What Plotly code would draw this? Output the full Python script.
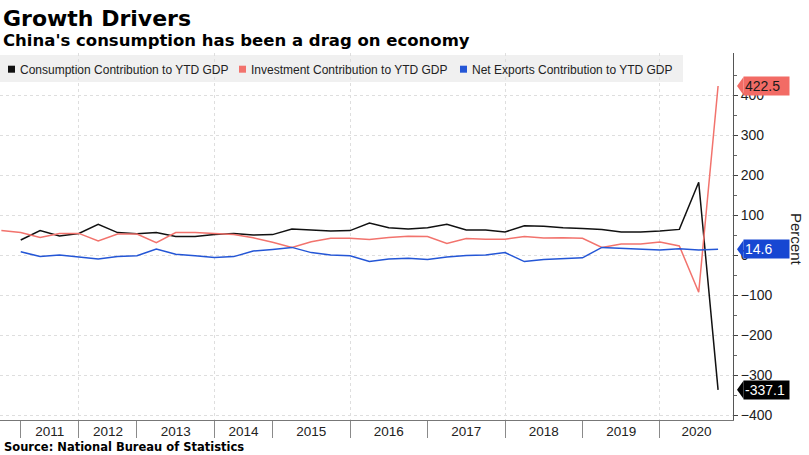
import plotly.graph_objects as go

# ---------------- data ----------------
periods = ["2010-Q4",
           "2011-Q2", "2011-Q3", "2011-Q4",
           "2012-Q2", "2012-Q3", "2012-Q4",
           "2013-Q1", "2013-Q2", "2013-Q3", "2013-Q4",
           "2014-Q2", "2014-Q3", "2014-Q4",
           "2015-Q1", "2015-Q2", "2015-Q3", "2015-Q4",
           "2016-Q1", "2016-Q2", "2016-Q3", "2016-Q4",
           "2017-Q1", "2017-Q2", "2017-Q3", "2017-Q4",
           "2018-Q1", "2018-Q2", "2018-Q3", "2018-Q4",
           "2019-Q1", "2019-Q2", "2019-Q3", "2019-Q4",
           "2020-Q1", "2020-Q2", "2020-Q3"]
investment_periods = ["2010-Q3"] + periods

consumption = [37.5, 61, 47.5, 54, 77, 56, 53, 56, 46, 46, 51, 54, 50, 51, 65, 63, 60, 61,
               80, 68, 65, 68, 77, 62.5, 62.5, 57.5, 73, 72, 68, 66.5, 64, 57.5, 57.5, 60,
               64, 182, -337.1]
investment = [61, 56, 44, 54, 54, 35, 52.5, 52.5, 31, 56, 56, 54, 51, 43, 32, 19, 33, 42, 42,
              39, 44, 47, 46, 29, 41, 39.5, 39.5, 46, 42.5, 43, 42, 19, 27.5, 27.5, 32.5,
              22.5, -93, 422.5]
net_exports = [8, -4, 0, -5, -10, -4, -2, 15, 2, -2, -6, -4, 10, 14, 19, 6, 0, -2, -16, -10,
               -8, -11, -5, -1.5, 0, 6, -16.5, -11, -9, -7, 19, 16.5, 15.5, 12.5, 15.5, 12.5,
               14.6]

years = ["2011", "2012", "2013", "2014", "2015", "2016", "2017", "2018", "2019", "2020"]
y_ticks = [-400, -300, -200, -100, 0, 100, 200, 300, 400]
y_minor = [-350, -250, -150, -50, 50, 150, 250, 350, 450]

series_names = ["Consumption Contribution to YTD GDP",
                "Investment Contribution to YTD GDP",
                "Net Exports Contribution to YTD GDP"]
colors = ["#111111", "#F2736D", "#2456D6"]
tag_colors = ["#000000", "#F26B65", "#1747D2"]
tag_text_colors = ["#ffffff", "#1a1a1a", "#ffffff"]

# ---------------- geometry ----------------
W, H = 809, 455
ML, MR, MT, MB = 0, 76, 53, 35
PW = W - ML - MR
PH = H - MT - MB
X_RANGE = [-1.07, 36.77]
Y_RANGE = [-412.5, 505]

index_of = {p: i for i, p in enumerate(periods)}
index_of["2010-Q3"] = -1
xc = [index_of[p] for p in periods]
xi = [index_of[p] for p in investment_periods]


def year_of(p):
    return int(p[:4])


# year boundaries: the last observation of the previous year
separators = []
for y in years:
    prev = [index_of[p] for p in periods if year_of(p) == int(y) - 1]
    separators.append(max(prev))
ends = separators[1:] + [X_RANGE[1]]
label_pos = [(a + b) / 2 for a, b in zip(separators, ends)]
grid_pos = [s for s, y in zip(separators, years) if (int(y) - 1) % 2 == 1]


def px_x(px):
    return (px - ML) / PW


def px_y(py):
    return (H - MB - py) / PH


fig = go.Figure()

for name, xs, ys, c in zip(series_names, [xc, xi, xc], [consumption, investment, net_exports], colors):
    fig.add_trace(go.Scatter(x=xs, y=ys, mode="lines", name=name,
                             line=dict(color=c, width=1.5), showlegend=False))

# helper traces for the overlay axes (separator ticks and grid)
fig.add_trace(go.Scatter(x=[separators[0]], y=[0], xaxis="x2", mode="markers",
                         marker=dict(opacity=0), hoverinfo="skip", showlegend=False))
fig.add_trace(go.Scatter(x=[grid_pos[0]], y=[0], xaxis="x3", mode="markers",
                         marker=dict(opacity=0), hoverinfo="skip", showlegend=False))

annotations = []
shapes = []

# titles
annotations.append(dict(text="<b>Growth Drivers</b>", x=px_x(1), y=px_y(18.5), xref="paper", yref="paper",
                        xanchor="left", yanchor="middle", showarrow=False,
                        font=dict(family="DejaVu Sans", size=22, color="#000")))
annotations.append(dict(text="<b>China's consumption has been a drag on economy</b>", x=px_x(1), y=px_y(41),
                        xref="paper", yref="paper", xanchor="left", yanchor="middle", showarrow=False,
                        font=dict(family="DejaVu Sans", size=16.5, color="#000")))
annotations.append(dict(text="<b>Source: National Bureau of Statistics</b>", x=px_x(2), y=px_y(447),
                        xref="paper", yref="paper", xanchor="left", yanchor="middle", showarrow=False,
                        font=dict(family="DejaVu Sans", size=11.5, color="#000")))

# legend band
shapes.append(dict(type="rect", xref="paper", yref="paper", x0=px_x(0), x1=px_x(683),
                   y0=px_y(82), y1=px_y(55), fillcolor="#f0f0f0", line=dict(width=0), layer="below"))
leg_sq_x = [8, 239, 460]
for name, c, sx in zip(series_names, colors, leg_sq_x):
    shapes.append(dict(type="rect", xref="paper", yref="paper", x0=px_x(sx), x1=px_x(sx + 7),
                       y0=px_y(72.7), y1=px_y(65.7), fillcolor=c, line=dict(width=0)))
    annotations.append(dict(text=name, x=px_x(sx + 9.5), y=px_y(69.5), xref="paper", yref="paper",
                            xanchor="left", yanchor="middle", showarrow=False,
                            font=dict(family="Liberation Sans, Arial, sans-serif", size=12, color="#222")))

# axis title
annotations.append(dict(text="Percent", x=px_x(797), y=px_y(240), xref="paper", yref="paper",
                        textangle=90, showarrow=False, xanchor="center", yanchor="middle",
                        font=dict(family="Liberation Sans, Arial, sans-serif", size=15, color="#222")))

# last value tags
unit_per_px = (Y_RANGE[1] - Y_RANGE[0]) / PH
for series, bg, fc in zip([consumption, investment, net_exports], tag_colors, tag_text_colors):
    v = series[-1]
    annotations.append(dict(text=f"{v:.1f}", x=px_x(743), y=v, xref="paper", yref="y",
                            xanchor="left", yanchor="middle", showarrow=False, align="left",
                            width=43, height=16, bgcolor=bg, borderpad=1,
                            font=dict(family="Liberation Sans, Arial, sans-serif", size=14, color=fc)))
    half = 9 * unit_per_px
    shapes.append(dict(type="path", xref="paper", yref="y",
                       path=f"M {px_x(737)} {v} L {px_x(743.5)} {v + half} L {px_x(743.5)} {v - half} Z",
                       fillcolor=bg, line=dict(width=0), layer="above"))

tickfont = dict(family="Liberation Sans, Arial, sans-serif", size=14, color="#222")
xtickfont = dict(family="Liberation Sans, Arial, sans-serif", size=13.5, color="#222")

fig.update_layout(
    width=W, height=H,
    margin=dict(l=ML, r=MR, t=MT, b=MB, pad=0),
    paper_bgcolor="#ffffff", plot_bgcolor="#ffffff",
    showlegend=False,
    xaxis=dict(range=X_RANGE, tickmode="array", tickvals=label_pos, ticktext=years,
               ticks="", showgrid=False, zeroline=False, showline=True, linecolor="#777",
               linewidth=1, tickfont=xtickfont, ticklabelstandoff=-1),
    xaxis2=dict(range=X_RANGE, overlaying="x", anchor="y", side="bottom", tickmode="array",
                tickvals=separators, ticks="outside", ticklen=17, tickcolor="#8a8a8a",
                showticklabels=False, showgrid=False, zeroline=False, showline=False),
    xaxis3=dict(range=X_RANGE, overlaying="x", anchor="y", side="bottom", tickmode="array",
                tickvals=grid_pos, ticks="", showticklabels=False, showgrid=True,
                gridcolor="#dedede", griddash="dot", gridwidth=1, zeroline=False, showline=False),
    yaxis=dict(range=Y_RANGE, side="right", tickmode="array", tickvals=y_ticks,
               ticks="outside", ticklen=4, tickcolor="#444", showline=True, linecolor="#555",
               linewidth=1, showgrid=True, gridcolor="#dedede", griddash="dot", zeroline=False,
               tickfont=tickfont,
               minor=dict(tickmode="array", tickvals=y_minor, ticks="outside", ticklen=3,
                          tickcolor="#666", showgrid=False)),
    annotations=annotations,
    shapes=shapes,
)

fig.write_html("out.html")
